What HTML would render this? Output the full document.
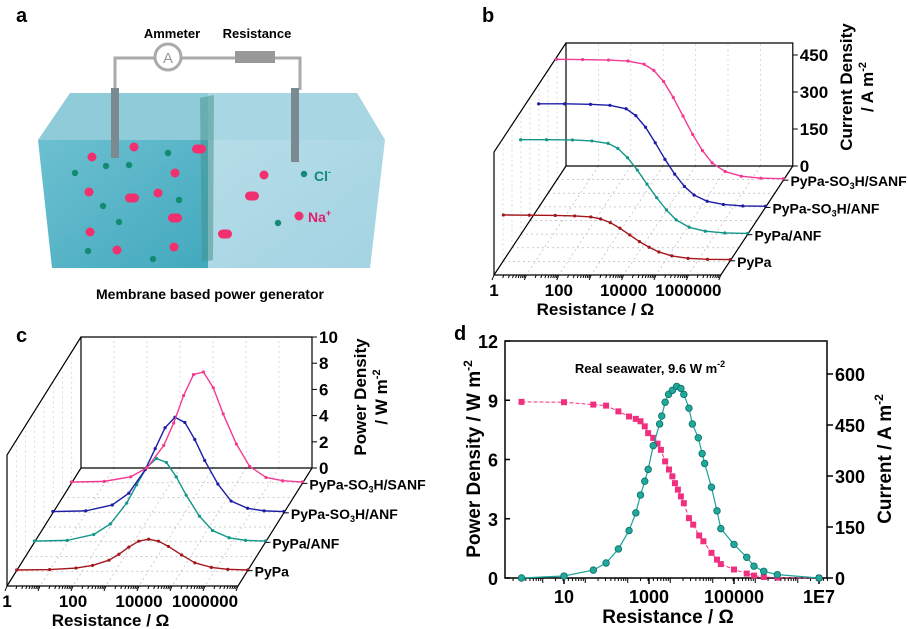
<!DOCTYPE html>
<html><head><meta charset="utf-8">
<style>
body{margin:0;background:#fff;}
svg{display:block;font-family:"Liberation Sans",Arial,sans-serif;font-weight:bold;}
</style></head>
<body>
<svg id="fig" width="908" height="629" viewBox="0 0 908 629" xmlns="http://www.w3.org/2000/svg">
<defs>
<linearGradient id="lw" x1="0" y1="0" x2="1" y2="1"><stop offset="0" stop-color="#6cc0d0"/><stop offset="1" stop-color="#43a9be"/></linearGradient>
<linearGradient id="rw" x1="0" y1="0" x2="1" y2="1"><stop offset="0" stop-color="#b6dde8"/><stop offset="1" stop-color="#a3d3e2"/></linearGradient>
</defs>
<g>
<text x="16" y="22" font-size="20">a</text>
<polygon points="70,93 357,93 385,140 38,140" fill="#8fcbd8"/>
<polygon points="38,140 208,140 208,268 52,268" fill="url(#lw)"/>
<polygon points="208,140 385,140 370,268 208,268" fill="url(#rw)"/>
<polygon points="208,93 357,93 385,140 208,140" fill="#a9d6e3"/>
<polygon points="200,98 214,95 213,260 202,262" fill="#3f8f8a" opacity="0.5"/>
<polyline points="115,90 115,58 300,58 300,90" fill="none" stroke="#aaa" stroke-width="3"/>
<circle cx="168" cy="57" r="13" fill="#fff" stroke="#aaa" stroke-width="3"/>
<text x="168" y="63" font-size="15" text-anchor="middle" fill="#999" font-weight="normal">A</text>
<rect x="235" y="51" width="40" height="12" fill="#999"/>
<rect x="111" y="88" width="8" height="70" fill="#7a8a90"/>
<rect x="291" y="88" width="8" height="74" fill="#7a8a90"/>
<text x="172" y="38" font-size="13" text-anchor="middle">Ammeter</text>
<text x="257" y="38" font-size="13" text-anchor="middle">Resistance</text>
<g id="ions"></g>
<text x="314" y="181" font-size="14" fill="#108a78">Cl<tspan dy="-6" font-size="9">-</tspan></text>
<text x="308" y="222" font-size="14" fill="#e0206f">Na<tspan dy="-6" font-size="9">+</tspan></text>
<text x="210" y="299" font-size="14" text-anchor="middle">Membrane based power generator</text>
</g>
<g id="pb"></g>
<g id="pc"></g>
<g id="pd"></g>
</svg>
<script>
const NS="http://www.w3.org/2000/svg";
function mk(parent,tag,attrs,text){const e=document.createElementNS(NS,tag);for(const k in attrs)e.setAttribute(k,attrs[k]);if(text!==undefined)e.textContent=text;parent.appendChild(e);return e;}

const naIons=[[92,157],[134,147],[175,173],[89,192],[158,193],[90,232],[117,250],[174,247],[264,175],[299,216]];
const clIons=[[75,173],[106,166],[129,165],[168,153],[103,206],[179,200],[119,222],[88,251],[153,259],[278,223],[304,174]];
const ionG=document.getElementById('ions');
naIons.forEach(p=>{const c=mk(ionG,'circle',{cx:p[0],cy:p[1],r:4.5,fill:'#f0306f'});

});
clIons.forEach(p=>{const c=mk(ionG,'circle',{cx:p[0],cy:p[1],r:3.2,fill:'#138a72'});

});
[[200,149],[133,198],[176,218],[253,196],[226,234]].forEach(p=>{const r=mk(ionG,'rect',{x:p[0]-8,y:p[1]-4.5,width:14,height:9,rx:4.5,fill:'#f0306f'});

});

const seriesNames=["PyPa","PyPa/ANF","PyPa-SO3H/ANF","PyPa-SO3H/SANF"];
const seriesColors=["#a3161b","#12968a","#1c1ca6","#f23a93"];
const seriesDepth=[0.87,0.63,0.38,0.13];
const bLogR=[0,0.8,1.6,2.2,2.7,3.0,3.3,3.6,3.9,4.2,4.5,4.8,5.2,5.7,6.3,7];
const bPyPa=[186,185,184,182,178,170,155,132,105,78,55,36,20,10,6,5];
const bPyPaANF=[385,385,384,380,370,350,312,262,205,150,100,60,30,14,7,5];
const bSO3HANF=[420,420,418,414,400,372,325,262,195,135,85,50,25,12,6,5];
const bSANF=[490,489,487,483,470,445,400,335,260,185,120,70,35,16,8,6];
const bYTicks=[0,150,300,450];
const cLogR=[0,1,1.8,2.3,2.8,3.1,3.4,3.7,4.0,4.3,4.6,5.0,5.4,5.9,6.4,7];
const cPyPa=[0.05,0.08,0.2,0.4,0.8,1.25,1.8,2.25,2.4,2.25,1.85,1.2,0.6,0.25,0.1,0.05];
const cPyPaANF=[0.1,0.15,0.6,1.4,3.0,4.4,5.7,6.4,6.1,5.0,3.6,2.0,0.9,0.35,0.15,0.1];
const cSO3HANF=[0.1,0.15,0.6,1.5,3.3,4.9,6.5,7.3,6.9,5.6,4.0,2.2,0.9,0.35,0.15,0.1];
const cSANF=[0.1,0.15,0.5,1.2,2.9,4.6,6.7,8.3,8.5,7.3,5.3,3.0,1.3,0.45,0.2,0.1];
const cYTicks=[0,2,4,6,8,10];
const xTickLabels=["1","100","10000","1000000"];
const xTickLogs=[0,2,4,6];

function panel3d(g,cfg,series,logs,yTicks,title1,title2){
  const P=(l,v,t)=>[cfg.bx0+cfg.dx*t+l*cfg.dec, cfg.by0+cfg.dy*t-v*cfg.vs];
  const W=7*cfg.dec, top=cfg.top;
  const ln=(pts,st,dash,name)=>{const e=mk(g,'polyline',{points:pts.map(p=>p.join(',')).join(' '),fill:'none',stroke:st,'stroke-width':dash?0.7:1.2,'stroke-dasharray':dash||''});
    
    return e;};
  for(let i=1;i<7;i++){ln([[cfg.bx0+i*cfg.dec,cfg.by0],[cfg.bx0+cfg.dx+i*cfg.dec,cfg.by0+cfg.dy]],'#bbb','2,3','floor-grid-line');}
  for(let j=1;j<8;j++){const t=j/8;ln([[cfg.bx0+cfg.dx*t,cfg.by0+cfg.dy*t],[cfg.bx0+cfg.dx*t+W,cfg.by0+cfg.dy*t]],'#bbb','2,3','floor-grid-line');}
  for(let i=1;i<7;i++){ln([[cfg.bx0+i*cfg.dec,cfg.by0],[cfg.bx0+i*cfg.dec,top]],'#ccc','2,3','back-grid-line');}
  for(let j=1;j<8;j++){const t=j/8;ln([[cfg.bx0+cfg.dx*t,top+cfg.dy*t],[cfg.bx0+cfg.dx*t,cfg.by0+cfg.dy*t]],'#ccc','2,3','side-grid-line');}
  ln([[cfg.bx0,cfg.by0],[cfg.bx0,top],[cfg.bx0+W,top],[cfg.bx0+W,cfg.by0],[cfg.bx0,cfg.by0]],'#000',null,'back-plane-frame');
  ln([[cfg.bx0,top],[cfg.bx0+cfg.dx,top+cfg.dy],[cfg.bx0+cfg.dx,cfg.by0+cfg.dy],[cfg.bx0+cfg.dx+W,cfg.by0+cfg.dy],[cfg.bx0+W,cfg.by0]],'#000',null,'side-floor-frame');
  ln([[cfg.bx0,cfg.by0],[cfg.bx0+cfg.dx,cfg.by0+cfg.dy]],'#000',null,'floor-edge');
  for(let d=0;d<=7;d++){for(let m=1;m<10;m++){const l=d+Math.log10(m);if(l>7)break;const x=cfg.bx0+cfg.dx+l*cfg.dec,y=cfg.by0+cfg.dy;
    const tk=mk(g,'line',{x1:x,y1:y,x2:x+(m==1?-2:-1),y2:y+(m==1?5:3),stroke:'#000','stroke-width':1});
    
    }}
  xTickLabels.forEach((s,i)=>{const x=cfg.bx0+cfg.dx+xTickLogs[i]*cfg.dec;const t=mk(g,'text',{x:x,y:cfg.by0+cfg.dy+21,'font-size':17,'text-anchor':'middle'},s);
    
    });
  const xt=mk(g,'text',{x:cfg.bx0+cfg.dx+W/2-12,y:cfg.by0+cfg.dy+40,'font-size':17,'text-anchor':'middle'},'Resistance / Ω');
  
  
  yTicks.forEach(v=>{const y=cfg.by0-v*cfg.vs;const tk=mk(g,'line',{x1:cfg.bx0+W,y1:y,x2:cfg.bx0+W+5,y2:y,stroke:'#000'});
    
    
    const t=mk(g,'text',{x:cfg.bx0+W+7,y:y+6,'font-size':17},String(v));
    
    });
  const t1=mk(g,'text',{transform:`translate(${cfg.tx1},${cfg.ty}) rotate(-90)`,'font-size':17,'text-anchor':'middle'},title1);
  
  
  const t2=mk(g,'text',{transform:`translate(${cfg.tx1+21},${cfg.ty}) rotate(-90)`,'font-size':17,'text-anchor':'middle'});
  
  
  t2.innerHTML=title2+'<tspan dy="-7" font-size="11">-2</tspan>';
  series.forEach((vals,k)=>{const t=seriesDepth[k];const pts=logs.map((l,i)=>P(l,vals[i],t));
    const e=mk(g,'polyline',{points:pts.map(p=>p.join(',')).join(' '),fill:'none',stroke:seriesColors[k],'stroke-width':1.4,'stroke-linejoin':'round'});
    
    
    pts.forEach(p=>{const c=mk(g,'circle',{cx:p[0],cy:p[1],r:1.6,fill:seriesColors[k]});
      
      });
    const ex=cfg.bx0+cfg.dx*t+W, ey=cfg.by0+cfg.dy*t;
    const tk=mk(g,'line',{x1:ex,y1:ey,x2:ex+5,y2:ey,stroke:'#000'});
    
    
    const lb=mk(g,'text',{x:ex+7,y:ey+6,'font-size':14});
    
    
    lb.innerHTML=seriesNames[k].replace('SO3H','SO<tspan font-size="9" dy="3">3</tspan><tspan dy="-3">H</tspan>');
  });
}
const pb=document.getElementById('pb');
mk(pb,'text',{x:482,y:22,'font-size':20},'b');
panel3d(pb,{bx0:566,by0:166,dx:-72,dy:109,dec:32.4,vs:111/450,top:43,tx1:852,ty:87},[bPyPa,bPyPaANF,bSO3HANF,bSANF],bLogR,bYTicks,'Current Density','/ A m');
const pc=document.getElementById('pc');
mk(pc,'text',{x:16,y:342,'font-size':20},'c');
panel3d(pc,{bx0:81,by0:468,dx:-74,dy:118,dec:33,vs:13.1,top:337,tx1:366,ty:397},[cPyPa,cPyPaANF,cSO3HANF,cSANF],cLogR,cYTicks,'Power Density','/ W m');

const dPowLog=[0,1,1.69,1.99,2.28,2.53,2.69,2.8,2.9,2.98,3.1,3.25,3.3,3.38,3.46,3.55,3.65,3.75,3.82,3.94,4.02,4.16,4.25,4.31,4.47,4.6,4.69,5,5.3,5.47,5.7,6.02,7];
const dPower=[0,0.1,0.4,0.76,1.47,2.4,3.3,4.2,4.9,5.5,6.7,7.8,8.2,8.9,9.3,9.5,9.7,9.6,9.3,8.6,7.8,7.1,6.3,5.8,4.6,3.4,2.5,1.7,1.05,0.6,0.34,0.17,0];
const dCurLog=[0,1,1.69,1.99,2.28,2.53,2.69,2.8,2.9,2.98,3.1,3.2,3.28,3.38,3.47,3.55,3.61,3.68,3.75,3.82,3.94,4.04,4.18,4.28,4.47,4.6,4.69,5,5.3,5.47,5.7,6.02,7];
const dCurrent=[518,517,510,507,490,475,468,461,446,426,412,395,377,343,319,299,279,260,240,220,176,157,125,108,74,54,41,25,13,7,3,1,0];
const dPTicks=[0,3,6,9,12];
const dCTicks=[0,150,300,450,600];
const dXLabels=["10","1000","100000","1E7"];
const dXLogs=[1,3,5,7];
const pd=document.getElementById('pd');
const L=505,R=827,T=341,B=578;
const xd=l=>521.5+l*42.5, yp=v=>B-(v/12)*(B-T), yc=v=>B-v*0.34;
mk(pd,'text',{x:454,y:340,'font-size':20},'d');
const fr=mk(pd,'rect',{x:L,y:T,width:R-L,height:B-T,fill:'none',stroke:'#000','stroke-width':1.5});


dPTicks.forEach(v=>{const y=yp(v);const a=mk(pd,'line',{x1:L,y1:y,x2:L+5,y2:y,stroke:'#000','stroke-width':1.5});
  
  
  const t=mk(pd,'text',{x:L-7,y:y+7,'font-size':18,'text-anchor':'end'},String(v));
  
  });
dCTicks.forEach(v=>{const y=yc(v);const a=mk(pd,'line',{x1:R,y1:y,x2:R+6,y2:y,stroke:'#000','stroke-width':1.5});
  
  
  const t=mk(pd,'text',{x:R+8,y:y+7,'font-size':18},String(v));
  
  });
for(let d=0;d<7.5;d++){for(let m=1;m<10;m++){const l=d+Math.log10(m)-0.5;if(l<-0.3||l>7.2)continue;const x=xd(l);
  const a=mk(pd,'line',{x1:x,y1:B,x2:x,y2:B+(m==1?5:3),stroke:'#000'});
  
  }}
dXLogs.forEach((l,i)=>{const x=xd(l);const a=mk(pd,'line',{x1:x,y1:B,x2:x,y2:B+6,stroke:'#000','stroke-width':1.5});
  
  
  const t=mk(pd,'text',{x:x,y:B+25,'font-size':18,'text-anchor':'middle'},dXLabels[i]);
  
  });
const dxt=mk(pd,'text',{x:668,y:623,'font-size':19,'text-anchor':'middle'},'Resistance / Ω');


const dyl=mk(pd,'text',{transform:'translate(480,459) rotate(-90)','font-size':19,'text-anchor':'middle'});


dyl.innerHTML='Power Density / W m<tspan dy="-8" font-size="12">-2</tspan>';
const dyr=mk(pd,'text',{transform:'translate(891,459) rotate(-90)','font-size':19,'text-anchor':'middle'});


dyr.innerHTML='Current / A m<tspan dy="-8" font-size="12">-2</tspan>';
const ann=mk(pd,'text',{x:650,y:373,'font-size':13,'text-anchor':'middle'});


ann.innerHTML='Real seawater, 9.6 W m<tspan dy="-6" font-size="9">-2</tspan>';
const cPts=dCurLog.map((l,i)=>[xd(l),yc(dCurrent[i])]);
const cl=mk(pd,'polyline',{points:cPts.map(p=>p.join(',')).join(' '),fill:'none',stroke:'#f0307f','stroke-width':1,'stroke-dasharray':'4,2'});


cPts.forEach(p=>{const r=mk(pd,'rect',{x:p[0]-3,y:p[1]-3,width:6,height:6,fill:'#f0307f'});
  
  });
const pPts=dPowLog.map((l,i)=>[xd(l),yp(dPower[i])]);
const pl=mk(pd,'polyline',{points:pPts.map(p=>p.join(',')).join(' '),fill:'none',stroke:'#1aa39a','stroke-width':1.2});


pPts.forEach(p=>{const c=mk(pd,'circle',{cx:p[0],cy:p[1],r:3.3,fill:'#20a89a',stroke:'#0b6e66','stroke-width':0.8});
  
  });
</script>
</body></html>
